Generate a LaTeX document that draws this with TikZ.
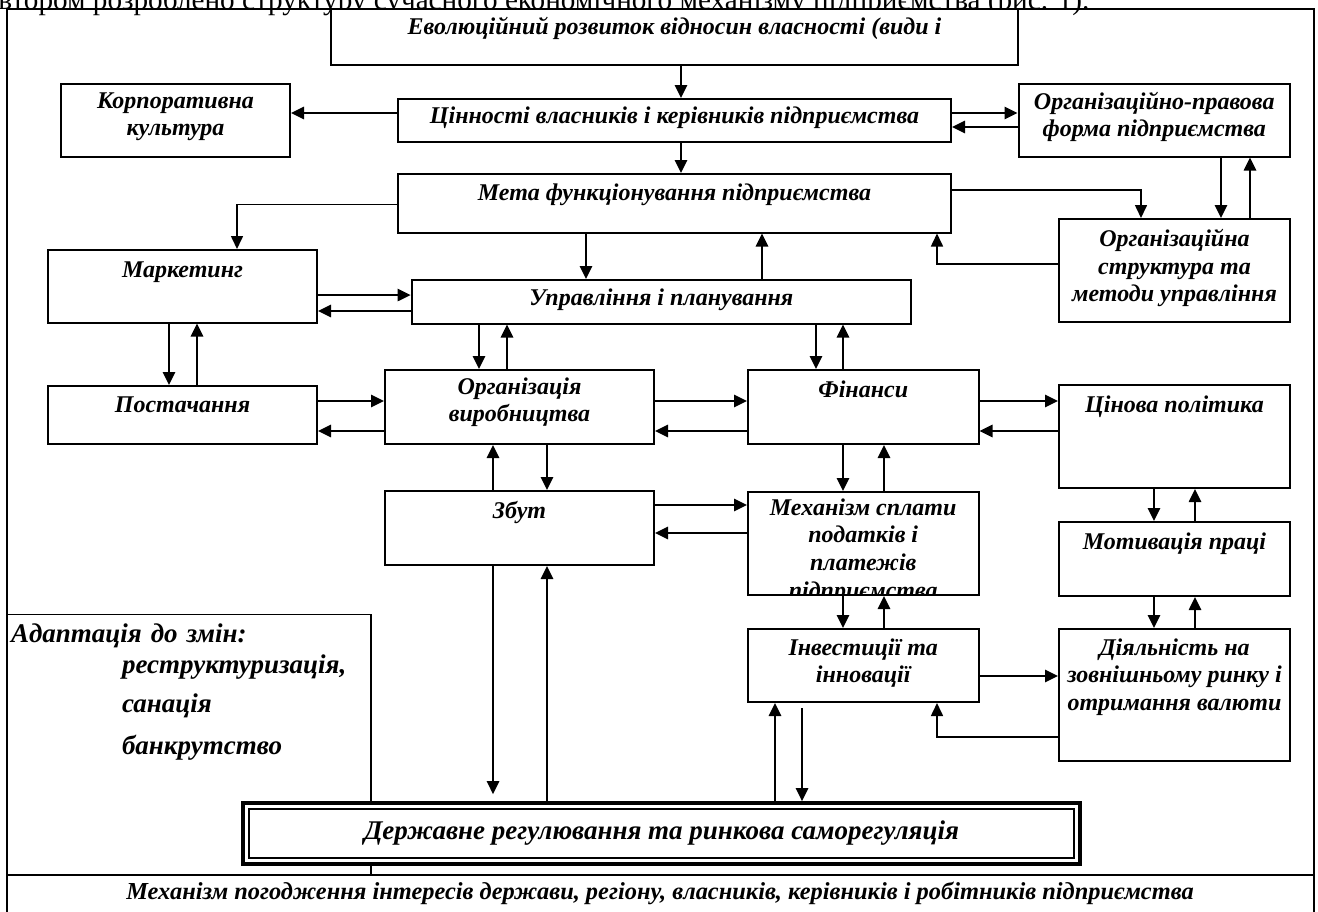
\documentclass[tikz,border=0pt]{standalone}
\usepackage{fontspec}
\setmainfont{Liberation Serif}
\usetikzlibrary{arrows.meta,calc}
\tikzset{
  >={Triangle[length=6.5pt,width=6pt]},
  blok/.style={draw,line width=1pt,fill=white,inner xsep=1pt,inner ysep=0pt,
    minimum height=0pt,align=center,font=\bfseries\itshape\fontsize{12}{13.8}\selectfont},
  rozm/.style n args={3}{minimum width=#1,text height=#2,text depth=#3},
  napys/.style={inner sep=0pt,font=\bfseries\itshape\fontsize{12}{13.8}\selectfont},
  strl/.style={->,line width=1.3pt},
  tonka/.style={->,line width=0.8pt},
  ramka/.style={line width=1pt},
}

\begin{document}
\begin{tikzpicture}[x=0.5pt,y=-0.5pt]
\useasboundingbox (0,0) rectangle (1318,911);
% line of the text above the figure
\node[anchor=base west,inner sep=0pt,font=\fontsize{14.6}{16}\selectfont] (vstup) at (-23,9)
  {Автором розроблено структуру сучасного економічного механізму підприємства (рис. 1).};
% frame
\draw[ramka] (7,930) -- (7,9) -- (1314,9) -- (1314,930);
\draw[ramka] (7,875) -- (1314,875);
\node[napys,anchor=base,font=\bfseries\itshape\fontsize{12.2}{14}\selectfont] (pogodzh) at (660,899)
  {Механізм погодження інтересів держави, регіону, власників, керівників і робітників підприємства};

% blocks (multi-line text: the height is counted to the last line)
\node[blok,rozm={343.5pt}{12.5pt}{15.5pt}] (evol) at (674.5,37) {Еволюційний розвиток відносин власності (види і};
\node[blok,rozm={114.5pt}{26.05pt}{10.45pt}] (korp) at (175.5,120) {Корпоративна\\культура};
\node[blok,rozm={276.5pt}{12pt}{9.5pt}] (cin) at (674.5,120.5) {Цінності власників і керівників підприємства};
\node[blok,rozm={135.75pt}{26.55pt}{9.95pt}] (orgprav) at (1154.25,120) {Організаційно-правова\\форма підприємства};
\node[blok,rozm={276.5pt}{13pt}{16.25pt}] (meta) at (674.5,203.25) {Мета функціонування підприємства};
\node[blok,rozm={115.5pt}{41.35pt}{10.15pt}] (orgstr) at (1174.5,270.5) {Організаційна\\структура та\\методи управління};
\node[blok,rozm={134.5pt}{13.5pt}{22.75pt}] (mark) at (182.5,286.25) {Маркетинг};
\node[blok,rozm={249.65pt}{12.5pt}{9.25pt}] (uprav) at (661.35,301.75) {Управління і планування};
\node[blok,rozm={134.5pt}{13pt}{16pt}] (post) at (182.5,415) {Постачання};
\node[blok,rozm={134.5pt}{25.8pt}{11.2pt}] (orgv) at (519.5,407) {Організація\\виробництва};
\node[blok,rozm={115.25pt}{13.5pt}{23.5pt}] (fin) at (863.25,407) {Фінанси};
\node[blok,rozm={115.5pt}{13.5pt}{38pt}] (cinp) at (1174.5,436.5) {Цінова політика};
\node[blok,rozm={134.5pt}{13.5pt}{23.5pt}] (zbut) at (519.5,528) {Збут};
\node[blok,rozm={115.25pt}{39.1pt}{12.4pt}] (mech) at (863.25,543.5) {Механізм сплати\\податків і\\платежів};
\begin{scope}
  \clip ([yshift=1pt]mech.south west) rectangle (mech.north east);
  \node[napys,anchor=base] (mechdali) at ([yshift=-1.4pt]mech.south) {підприємства};
\end{scope}
\node[blok,rozm={115.5pt}{13.5pt}{23.5pt}] (motyv) at (1174.5,559) {Мотивація праці};
\node[blok,rozm={115.25pt}{26.8pt}{9.7pt}] (inv) at (863.25,665.5) {Інвестиції та\\інновації};
\node[blok,rozm={115.5pt}{40.6pt}{25.4pt}] (diyal) at (1174.5,695) {Діяльність на\\зовнішньому ринку і\\отримання валюти};
\node[blok,line width=0.8pt,align=left,text width=178pt,inner xsep=2pt,text height=13.75pt,text depth=116.5pt,
  font=\bfseries\itshape\fontsize{13.5}{14}\selectfont] (adapt) at (189,744.75)
  {Адаптація до змін:\\[1.8pt]
   \hspace*{55.5pt}реструктуризація,\\[5.2pt]
   \hspace*{55.5pt}санація\\[7pt]
   \hspace*{55.5pt}банкрутство};
\node[blok,line width=1.8pt,rozm={418.5pt}{18pt}{12.5pt},font=\bfseries\itshape\fontsize{13.5}{15}\selectfont] (derzh) at (661.5,833.5)
  {Державне регулювання та ринкова саморегуляція};
\draw[line width=0.9pt] ([shift={(4pt,-4pt)}]derzh.north west) rectangle ([shift={(-4pt,4pt)}]derzh.south east);

% arrows
\draw[strl] (681,0 |- evol.south) -- (681,0 |- cin.north);
\draw[strl] (681,0 |- cin.south) -- (681,0 |- meta.north);
\draw[strl] (cin.west |- 0,113) -- (korp.east |- 0,113);
\draw[strl] (inv.east |- 0,676) -- (diyal.west |- 0,676);
\foreach \a/\b/\xa/\xb in {mark/post/169/197, uprav/orgv/479/507, uprav/fin/816/843,
    orgprav/orgstr/1221/1250, fin/mech/843/884, mech/inv/843/884, cinp/motyv/1154/1195,
    motyv/diyal/1154/1195, meta/uprav/586/762, orgv/zbut/547/493}{
  \draw[strl] (\xa,0 |- \a.south) -- (\xa,0 |- \b.north);
  \draw[strl] (\xb,0 |- \b.north) -- (\xb,0 |- \a.south);
}
\foreach \lft/\rgt/\ya/\yb in {mark/uprav/295/311, post/orgv/401/431, orgv/fin/401/431,
    fin/cinp/401/431, zbut/mech/505/533, cin/orgprav/113/127}{
  \draw[strl] (\lft.east |- 0,\ya) -- (\rgt.west |- 0,\ya);
  \draw[strl] (\rgt.west |- 0,\yb) -- (\lft.east |- 0,\yb);
}
\draw[strl,shorten >=3.5pt] (493,0 |- zbut.south) -- (493,0 |- derzh.north);
\draw[strl] (547,0 |- derzh.north) -- (547,0 |- zbut.south);
\draw[strl] (775,0 |- derzh.north) -- (775,0 |- inv.south);
\draw[strl,shorten <=2.5pt] (802,0 |- inv.south) -- (802,0 |- derzh.north);
\draw[tonka] (meta.west |- 0,204.5) -| (237,0 |- mark.north);
\draw[tonka] (meta.east |- 0,190) -| (1141,0 |- orgstr.north);
\draw[tonka] (orgstr.west |- 0,264) -| (937,0 |- meta.south);
\draw[tonka] (diyal.west |- 0,737) -| (937,0 |- inv.south);
\end{tikzpicture}
\end{document}
